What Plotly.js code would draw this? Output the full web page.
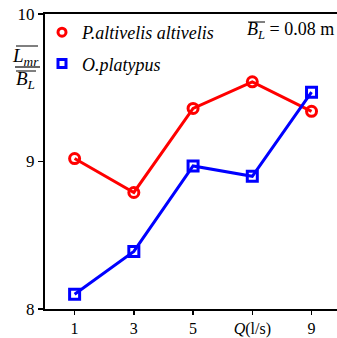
<!DOCTYPE html>
<html><head><meta charset="utf-8">
<script src="https://cdn.plot.ly/plotly-3.0.1.min.js"></script>
<style>html,body{margin:0;padding:0;background:#fff}</style>
</head><body><div id="chart" style="width:337px;height:338px"></div>
<script>
const flowQ = [1, 3, 5, 7, 9];
const altivelis = [9.02, 8.79, 9.36, 9.54, 9.34];
const platypus = [8.10, 8.39, 8.97, 8.90, 9.47];
const xTickVals = [1, 3, 5, 7, 9];
const xTickText = ['1', '3', '5', '<i>Q</i>(l/s)', '9'];
const yTickVals = [8, 9, 10];
const seriesNames = ['<i>P.altivelis altivelis</i>', '<i>O.platypus</i>'];

const FONT = 'Liberation Serif';
const W = 337, H = 338, ML = 45, MR = 0, MT = 14, MB = 29;

function px2paper(px, py) {
  const w = W - ML - MR, h = H - MT - MB;
  return [(px - ML) / w, 1 - (py - MT) / h];
}
function hline(x0, x1, y, width) {
  const a = px2paper(x0, y), b = px2paper(x1, y);
  return {type: 'line', xref: 'paper', yref: 'paper', x0: a[0], x1: b[0], y0: a[1], y1: b[1], line: {color: '#000', width: width}};
}
function label(px, py, text, size, anchor) {
  const p = px2paper(px, py);
  return {xref: 'paper', yref: 'paper', x: p[0], y: p[1], xanchor: anchor || 'center', yanchor: 'middle',
          showarrow: false, text: text, font: {family: FONT, size: size, color: '#000'}};
}

const traces = [
  {x: flowQ, y: altivelis, mode: 'lines+markers', showlegend: false, cliponaxis: false,
   line: {color: '#ff0000', width: 3},
   marker: {symbol: 'circle-open', size: 10, color: '#ff0000', line: {width: 3, color: '#ff0000'}}},
  {x: flowQ, y: platypus, mode: 'lines+markers', showlegend: false, cliponaxis: false,
   line: {color: '#0000ff', width: 3},
   marker: {symbol: 'square-open', size: 10, color: '#0000ff', line: {width: 3, color: '#0000ff'}}},
  {x: [null], y: [null], mode: 'markers', name: seriesNames[0], legendgroup: 'a',
   marker: {symbol: 'circle-open', size: 8, color: '#ff0000', line: {width: 3, color: '#ff0000'}}},
  {x: [null], y: [null], mode: 'markers', name: seriesNames[1], legendgroup: 'b',
   marker: {symbol: 'square-open', size: 8, color: '#0000ff', line: {width: 3, color: '#0000ff'}}}
];

const legPos = px2paper(42, 14);

const layout = {
  width: W, height: H,
  margin: {l: ML, r: MR, t: MT, b: MB},
  paper_bgcolor: '#fff', plot_bgcolor: '#fff',
  showlegend: true,
  legend: {x: legPos[0], y: legPos[1], xanchor: 'left', yanchor: 'top', bgcolor: 'rgba(0,0,0,0)',
           font: {family: FONT, size: 18, color: '#000'}, tracegroupgap: 5, itemwidth: 30},
  xaxis: {range: [0, 9.86], tickvals: xTickVals, ticktext: xTickText, showgrid: false, zeroline: false,
          showline: true, linecolor: '#000', linewidth: 2, mirror: true,
          ticks: 'outside', ticklen: 4, tickwidth: 1.5, tickcolor: '#000',
          tickfont: {family: FONT, size: 16, color: '#000'}},
  yaxis: {range: [8, 10], tickvals: yTickVals, showgrid: false, zeroline: false,
          showline: true, linecolor: '#000', linewidth: 2,
          ticks: 'outside', ticklen: 5, tickwidth: 1.5, tickcolor: '#000',
          tickfont: {family: FONT, size: 17, color: '#000'}},
  annotations: [
    label(25, 57, '<i>L</i><sub><i>mr</i></sub>', 19),
    label(25, 80, '<i>B</i><sub><i>L</i></sub>', 19),
    label(336, 31, '<i>B</i><sub><i>L</i></sub> = 0.08 m', 18, 'right')
  ],
  shapes: [
    hline(16, 38, 46, 1),
    hline(15, 40, 67, 1.2),
    hline(16, 36, 71, 1),
    hline(248, 265, 22, 1)
  ]
};

Plotly.newPlot('chart', traces, layout, {displayModeBar: false, staticPlot: true});
</script></body></html>
